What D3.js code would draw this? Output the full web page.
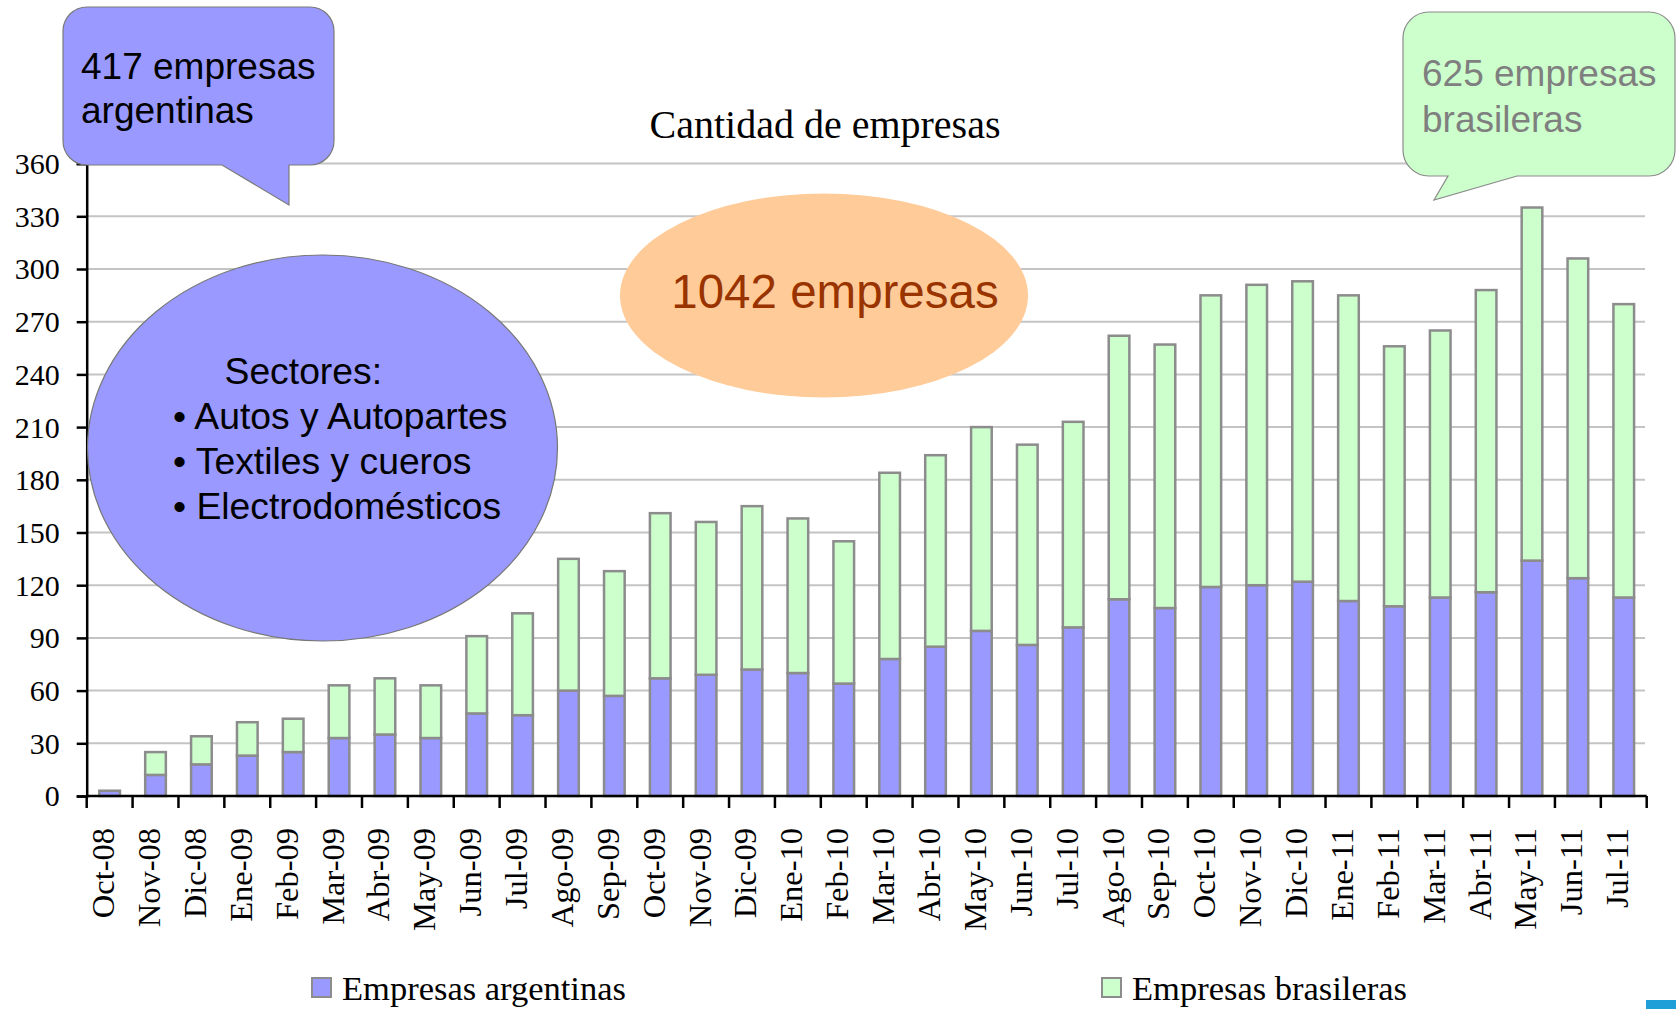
<!DOCTYPE html>
<html lang="es">
<head>
<meta charset="utf-8">
<title>Cantidad de empresas</title>
<script src="https://cdn.jsdelivr.net/npm/d3@7"></script>
<style>
  body { margin: 0; background: #fff; }
  svg { display: block; }
  .serif { font-family: "Liberation Serif", "Times New Roman", serif; }
  .sans { font-family: "Liberation Sans", Arial, sans-serif; }
</style>
</head>
<body>
<svg id="chart" width="1676" height="1009"></svg>
<script>
// months shown on the x axis
var meses = ["Oct-08","Nov-08","Dic-08","Ene-09","Feb-09","Mar-09","Abr-09","May-09","Jun-09","Jul-09",
  "Ago-09","Sep-09","Oct-09","Nov-09","Dic-09","Ene-10","Feb-10","Mar-10","Abr-10","May-10",
  "Jun-10","Jul-10","Ago-10","Sep-10","Oct-10","Nov-10","Dic-10","Ene-11","Feb-11","Mar-11",
  "Abr-11","May-11","Jun-11","Jul-11"];

var argentinas = [3,12,18,23,25,33,35,33,47,46,60,57,67,69,72,70,64,78,85,94,86,96,112,107,119,120,122,111,108,113,116,134,124,113];
var brasileras = [0,13,16,19,19,30,32,30,44,58,75,71,94,87,93,88,81,106,109,116,114,117,150,150,166,171,171,174,148,152,172,201,182,167];

var yTicks = [0,30,60,90,120,150,180,210,240,270,300,330,360];
var series = ["Empresas argentinas", "Empresas brasileras"];
var colors = ["#9999ff", "#ccffcc"];

var svg = d3.select("#chart");

var x = d3.scaleBand()
    .domain(meses)
    .range([86.7, 1646.7])
    .paddingInner(0.55)
    .paddingOuter(0.275);

var y = d3.scaleLinear()
    .domain([0, 360])
    .range([796, 163.6]);

var rows = meses.map(function(m, i) {
  return { mes: m, arg: argentinas[i], bra: brasileras[i] };
});
var stacked = d3.stack().keys(["arg", "bra"])(rows);

// gridlines
svg.append("g")
  .selectAll("line")
  .data(yTicks.slice(1))
  .enter().append("line")
  .attr("x1", 86.7).attr("x2", 1645)
  .attr("y1", function(d) { return y(d); })
  .attr("y2", function(d) { return y(d); })
  .attr("stroke", "#c4c4c4")
  .attr("stroke-width", 2);

// bars
svg.append("g")
  .selectAll("g")
  .data(stacked)
  .enter().append("g")
  .attr("fill", function(d, i) { return colors[i]; })
  .selectAll("rect")
  .data(function(d) { return d; })
  .enter().append("rect")
  .attr("x", function(d) { return x(d.data.mes); })
  .attr("width", x.bandwidth())
  .attr("y", function(d) { return y(d[1]); })
  .attr("height", function(d) { return y(d[0]) - y(d[1]); })
  .attr("stroke", "#8c8c8c")
  .attr("stroke-width", 2.5);

// y axis
var yAxis = svg.append("g")
  .attr("transform", "translate(86.7,0)")
  .call(d3.axisLeft(y).tickValues(yTicks).tickSize(10).tickPadding(17));
yAxis.select(".domain").attr("stroke", "#000").attr("stroke-width", 2.5);
yAxis.selectAll(".tick line").attr("stroke", "#000").attr("stroke-width", 2.5);
yAxis.selectAll(".tick text")
  .attr("class", "serif")
  .attr("font-size", 30)
  .attr("fill", "#000")
  .attr("dy", "0.33em");

// x axis: ticks sit on the category boundaries
var step = x.step();
var bounds = meses.map(function(m, i) { return x.range()[0] + i * step; });
bounds.push(x.range()[1]);

svg.append("line")
  .attr("x1", 86.7).attr("x2", 1646.7)
  .attr("y1", y(0)).attr("y2", y(0))
  .attr("stroke", "#000").attr("stroke-width", 2.5);

svg.append("g")
  .selectAll("line")
  .data(bounds)
  .enter().append("line")
  .attr("x1", function(d) { return d; })
  .attr("x2", function(d) { return d; })
  .attr("y1", y(0)).attr("y2", y(0) + 12)
  .attr("stroke", "#000").attr("stroke-width", 2.5);

svg.append("g")
  .selectAll("text")
  .data(meses)
  .enter().append("text")
  .attr("class", "serif")
  .attr("font-size", 32.5)
  .attr("text-anchor", "end")
  .attr("transform", function(d) {
    return "translate(" + (x(d) + x.bandwidth() / 2 + 4.5) + ",828) rotate(-90)";
  })
  .text(function(d) { return d; });

// title
svg.append("text")
  .attr("class", "serif")
  .attr("x", 825).attr("y", 138)
  .attr("font-size", 40)
  .attr("text-anchor", "middle")
  .text("Cantidad de empresas");

// legend
var legX = [312, 1102];
series.forEach(function(s, i) {
  svg.append("rect")
    .attr("x", legX[i]).attr("y", 978)
    .attr("width", 19).attr("height", 19)
    .attr("fill", colors[i])
    .attr("stroke", "#8c8c8c").attr("stroke-width", 2);
  svg.append("text")
    .attr("class", "serif")
    .attr("x", legX[i] + 30).attr("y", 1000)
    .attr("font-size", 34.5)
    .text(s);
});

// corner strip of the slide
svg.append("rect").attr("x", 1646).attr("y", 1000).attr("width", 30).attr("height", 9).attr("fill", "#1e9fd8");

// rounded box with a pointer on its bottom edge
function callout(x0, y0, x1, y1, r, tail) {
  // tail: [startX, tipX, tipY, endX], walked right to left along the bottom
  var p = d3.path();
  p.moveTo(x0 + r, y0);
  p.lineTo(x1 - r, y0);
  p.arcTo(x1, y0, x1, y0 + r, r);
  p.lineTo(x1, y1 - r);
  p.arcTo(x1, y1, x1 - r, y1, r);
  p.lineTo(tail[0], y1);
  p.lineTo(tail[1], tail[2]);
  p.lineTo(tail[3], y1);
  p.lineTo(x0 + r, y1);
  p.arcTo(x0, y1, x0, y1 - r, r);
  p.lineTo(x0, y0 + r);
  p.arcTo(x0, y0, x0 + r, y0, r);
  p.closePath();
  return p.toString();
}

// callout: argentinas
svg.append("path")
  .attr("d", callout(63, 7, 334, 165, 24, [289, 289, 205, 222]))
  .attr("fill", "#9999ff")
  .attr("stroke", "#7a7a7a").attr("stroke-width", 1.2);
svg.append("text").attr("class", "sans").attr("x", 81).attr("y", 79)
  .attr("font-size", 37).attr("fill", "#000").text("417 empresas");
svg.append("text").attr("class", "sans").attr("x", 81).attr("y", 123)
  .attr("font-size", 37).attr("fill", "#000").text("argentinas");

// callout: brasileras
svg.append("path")
  .attr("d", callout(1403, 12, 1675, 176, 26, [1517, 1434, 200, 1448]))
  .attr("fill", "#ccffcc")
  .attr("stroke", "#8a8a8a").attr("stroke-width", 1.2);
svg.append("text").attr("class", "sans").attr("x", 1422).attr("y", 86)
  .attr("font-size", 37).attr("fill", "#7f7f7f").text("625 empresas");
svg.append("text").attr("class", "sans").attr("x", 1422).attr("y", 132)
  .attr("font-size", 37).attr("fill", "#7f7f7f").text("brasileras");

// total bubble
svg.append("ellipse")
  .attr("cx", 824).attr("cy", 295.5).attr("rx", 204).attr("ry", 102)
  .attr("fill", "#ffcc99");
svg.append("text").attr("class", "sans")
  .attr("x", 835).attr("y", 307.5)
  .attr("text-anchor", "middle")
  .attr("font-size", 47.5).attr("fill", "#993300")
  .text("1042 empresas");

// sectors bubble
svg.append("ellipse")
  .attr("cx", 322.5).attr("cy", 448).attr("rx", 235).attr("ry", 193)
  .attr("fill", "#9999ff")
  .attr("stroke", "#777").attr("stroke-width", 1.2);
var sectores = ["• Autos y Autopartes", "• Textiles y cueros", "• Electrodomésticos"];
svg.append("text").attr("class", "sans").attr("x", 224.5).attr("y", 384)
  .attr("font-size", 37.3).attr("fill", "#000").text("Sectores:");
svg.append("g")
  .selectAll("text")
  .data(sectores)
  .enter().append("text")
  .attr("class", "sans")
  .attr("x", 173)
  .attr("y", function(d, i) { return 429 + i * 45; })
  .attr("font-size", 37.3)
  .attr("fill", "#000")
  .text(function(d) { return d; });
</script>
</body>
</html>
